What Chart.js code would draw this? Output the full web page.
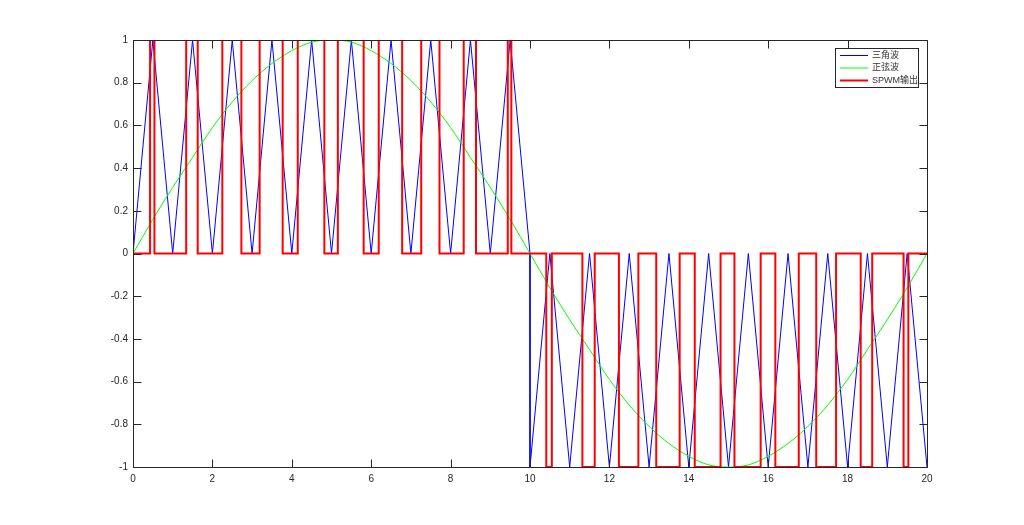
<!DOCTYPE html>
<html>
<head>
<meta charset="utf-8">
<script src="https://cdn.jsdelivr.net/npm/chart.js@4/dist/chart.umd.min.js"></script>
<style>
  html, body { margin: 0; padding: 0; background: #fff; }
  canvas { display: block; }
</style>
</head>
<body>
<canvas id="spwmChart" width="1024" height="525"></canvas>
<script>
// === DATA ===
const xTicks = [0, 2, 4, 6, 8, 10, 12, 14, 16, 18, 20];
const yTicks = [-1, -0.8, -0.6, -0.4, -0.2, 0, 0.2, 0.4, 0.6, 0.8, 1];

// triangle carrier (corners)
const triX = [0, 0.5, 1, 1.5, 2, 2.5, 3, 3.5, 4, 4.5, 5, 5.5, 6, 6.5, 7, 7.5, 8, 8.5, 9, 9.5, 10,
              10, 10.5, 11, 11.5, 12, 12.5, 13, 13.5, 14, 14.5, 15, 15.5, 16, 16.5, 17, 17.5, 18, 18.5, 19, 19.5, 20];
const triY = [0, 1, 0, 1, 0, 1, 0, 1, 0, 1, 0, 1, 0, 1, 0, 1, 0, 1, 0, 1, 0,
              -1, 0, -1, 0, -1, 0, -1, 0, -1, 0, -1, 0, -1, 0, -1, 0, -1, 0, -1, 0, -1];

// sine reference, read every 0.5
const sineX = [0, 0.5, 1, 1.5, 2, 2.5, 3, 3.5, 4, 4.5, 5, 5.5, 6, 6.5, 7, 7.5, 8, 8.5, 9, 9.5, 10,
               10.5, 11, 11.5, 12, 12.5, 13, 13.5, 14, 14.5, 15, 15.5, 16, 16.5, 17, 17.5, 18, 18.5, 19, 19.5, 20];
const sineY = [0, 0.16, 0.31, 0.45, 0.59, 0.71, 0.81, 0.89, 0.95, 0.99, 1, 0.99, 0.95, 0.89, 0.81, 0.71, 0.59, 0.45, 0.31, 0.16, 0,
               -0.16, -0.31, -0.45, -0.59, -0.71, -0.81, -0.89, -0.95, -0.99, -1, -0.99, -0.95, -0.89, -0.81, -0.71, -0.59, -0.45, -0.31, -0.16, 0];

// SPWM pulses: switch-on / switch-off positions and level
const spwmOn  = [0.43, 1.34, 2.25, 3.19, 4.15, 5.16, 6.19, 7.26, 8.33, 9.44,
                 10.41, 11.32, 12.24, 13.18, 14.15, 15.15, 16.18, 17.21, 18.33, 19.41];
const spwmOff = [0.54, 1.63, 2.73, 3.77, 4.82, 5.81, 6.78, 7.72, 8.64, 9.53,
                 10.55, 11.63, 12.73, 13.77, 14.80, 15.81, 16.77, 17.71, 18.62, 19.53];
const spwmLevel = [1, 1, 1, 1, 1, 1, 1, 1, 1, 1,
                   -1, -1, -1, -1, -1, -1, -1, -1, -1, -1];

const seriesLabels = ["三角波", "正弦波", "SPWM输出"];
const seriesColors = ["#0000ff", "#00ff00", "#ff0000"];

// === BUILD POINTS ===
const triPts = triX.map((x, i) => ({ x, y: triY[i] }));
const sinePts = sineX.map((x, i) => ({ x, y: sineY[i] }));
const spwmPts = [{ x: 0, y: 0 }];
spwmOn.forEach((on, i) => {
  spwmPts.push({ x: on, y: 0 }, { x: on, y: spwmLevel[i] },
               { x: spwmOff[i], y: spwmLevel[i] }, { x: spwmOff[i], y: 0 });
});
spwmPts.push({ x: 20, y: 0 });

const AXIS = "#262626";
const FONT = "'Liberation Sans', Arial, 'Noto Sans CJK SC', sans-serif";

// === FRAME, INWARD TICKS, LEGEND ===
const framePlugin = {
  id: "frame",
  afterDatasetsDraw(chart) {
    const { ctx, chartArea: a, scales } = chart;
    const L = Math.round(a.left) + 0.5, R = Math.round(a.right) + 0.5;
    const T = Math.round(a.top) + 0.5, B = Math.round(a.bottom) + 0.5;
    const tl = 8;
    ctx.save();
    ctx.strokeStyle = AXIS;
    ctx.lineWidth = 1;
    ctx.beginPath();
    ctx.rect(L, T, R - L, B - T);
    xTicks.forEach(v => {
      const px = Math.round(scales.x.getPixelForValue(v)) + 0.5;
      ctx.moveTo(px, B); ctx.lineTo(px, B - tl);
      ctx.moveTo(px, T); ctx.lineTo(px, T + tl);
    });
    yTicks.forEach(v => {
      const py = Math.round(scales.y.getPixelForValue(v)) + 0.5;
      ctx.moveTo(L, py); ctx.lineTo(L + tl, py);
      ctx.moveTo(R, py); ctx.lineTo(R - tl, py);
    });
    ctx.stroke();

    // legend
    const bx = 835.5, by = 48.5, bw = 83, bh = 39;
    ctx.fillStyle = "#fff";
    ctx.fillRect(bx, by, bw, bh);
    ctx.strokeRect(bx, by, bw, bh);
    ctx.font = "9px " + FONT;
    ctx.textBaseline = "middle";
    seriesLabels.forEach((lab, i) => {
      const ry = 55.5 + i * 12.5;
      ctx.strokeStyle = seriesColors[i];
      ctx.lineWidth = i === 2 ? 2 : 1;
      ctx.beginPath();
      ctx.moveTo(840, ry); ctx.lineTo(868, ry);
      ctx.stroke();
      ctx.fillStyle = "#333";
      ctx.fillText(lab, 872, ry);
    });
    ctx.restore();
  }
};

// === CHART ===
const ctx = document.getElementById("spwmChart").getContext("2d");
new Chart(ctx, {
  type: "line",
  data: {
    datasets: [
      { label: seriesLabels[0], data: triPts, borderColor: seriesColors[0], borderWidth: 1, order: 2 },
      { label: seriesLabels[1], data: sinePts, borderColor: seriesColors[1], borderWidth: 1,
        cubicInterpolationMode: "monotone", order: 1 },
      { label: seriesLabels[2], data: spwmPts, borderColor: seriesColors[2], borderWidth: 2, order: 0 }
    ]
  },
  options: {
    responsive: false,
    animation: false,
    devicePixelRatio: 1,
    parsing: false,
    elements: { point: { radius: 0 }, line: { tension: 0, fill: false } },
    layout: { padding: { left: 0, top: 40, right: 97, bottom: 0 } },
    plugins: { legend: { display: false }, tooltip: { enabled: false } },
    scales: {
      x: {
        type: "linear", min: 0, max: 20,
        afterFit: s => { s.height = 58; },
        afterBuildTicks: s => { s.ticks = xTicks.map(v => ({ value: v })); },
        grid: { display: false, drawTicks: false },
        border: { display: false },
        ticks: { color: AXIS, font: { family: FONT, size: 10 }, padding: 6, autoSkip: false, maxRotation: 0 }
      },
      y: {
        type: "linear", min: -1, max: 1,
        afterFit: s => { s.width = 133; },
        afterBuildTicks: s => { s.ticks = yTicks.map(v => ({ value: v })); },
        grid: { display: false, drawTicks: false },
        border: { display: false },
        ticks: { color: AXIS, font: { family: FONT, size: 10 }, padding: 5, autoSkip: false,
                 callback: v => String(Math.round(v * 10) / 10) }
      }
    }
  },
  plugins: [framePlugin]
});
</script>
</body>
</html>
